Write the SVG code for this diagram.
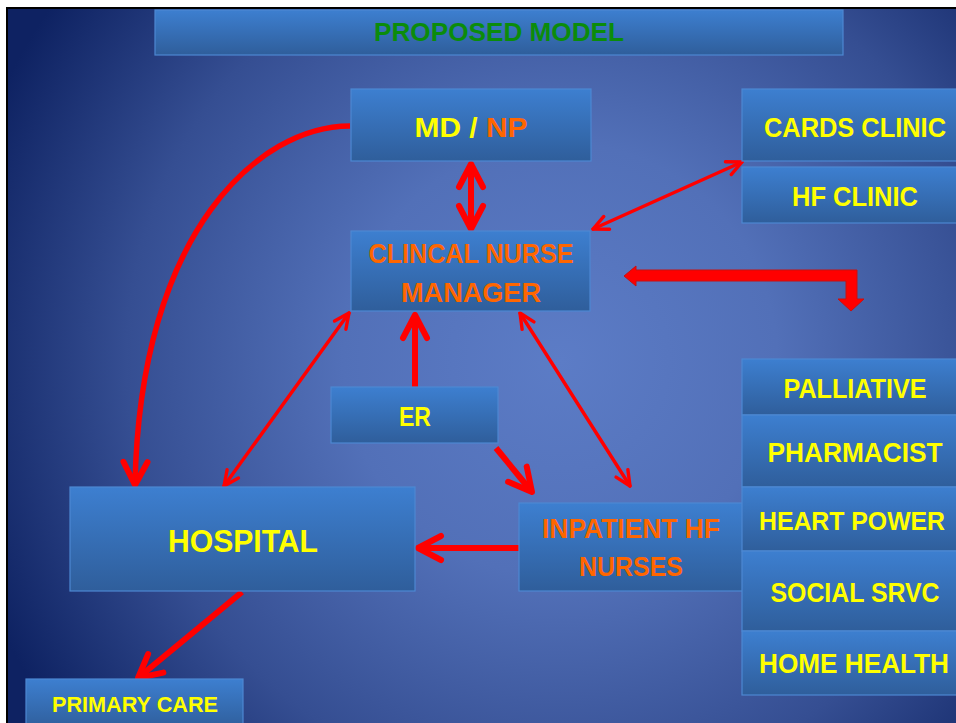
<svg xmlns="http://www.w3.org/2000/svg" width="956" height="723" viewBox="0 0 956 723">
<defs>
<radialGradient id="bg" cx="560" cy="360" r="620" gradientUnits="userSpaceOnUse">
<stop offset="0" stop-color="#5c7cc6"/>
<stop offset="0.35" stop-color="#5270b8"/>
<stop offset="0.7" stop-color="#354e92"/>
<stop offset="1" stop-color="#0e2262"/>
</radialGradient>
<linearGradient id="box" x1="0" y1="0" x2="0" y2="1">
<stop offset="0" stop-color="#3d7fd0"/>
<stop offset="1" stop-color="#2f5e9b"/>
</linearGradient>
<marker id="thin" markerUnits="userSpaceOnUse" orient="auto-start-reverse" overflow="visible" refX="0" refY="0" markerWidth="1" markerHeight="1">
<path d="M-15,-7 L0,0 L-15,7" fill="none" stroke="#ff0000" stroke-width="3.4" stroke-linecap="round" stroke-linejoin="round"/>
</marker>
<marker id="thick" markerUnits="userSpaceOnUse" orient="auto-start-reverse" overflow="visible" refX="0" refY="0" markerWidth="1" markerHeight="1">
<path d="M-23,-12 L0,0 L-23,12" fill="none" stroke="#ff0000" stroke-width="6" stroke-linecap="round" stroke-linejoin="round"/>
</marker>
</defs>
<style>
.bx{fill:url(#box);stroke:#4d88d2;stroke-width:1.2}
.t{font-family:"Liberation Sans",Arial,sans-serif;font-weight:bold;text-anchor:middle}
.y{fill:#ffff00}
.o{fill:#ff6600}
.thin{fill:none;stroke:#ff0000;stroke-width:3.4;stroke-linecap:round}
.thick{fill:none;stroke:#ff0000;stroke-width:6}
</style>
<rect x="0" y="0" width="956" height="723" fill="#ffffff"/>
<rect x="8" y="9" width="948" height="714" fill="url(#bg)"/>
<line x1="7" y1="8" x2="7" y2="723" stroke="#000" stroke-width="2"/>
<line x1="6" y1="8" x2="956" y2="8" stroke="#000" stroke-width="2"/>

<g id="title">
<rect class="bx" x="155" y="10" width="688" height="45"/>
<text class="t" x="499" y="41" font-size="26" fill="#0b8c0b" textLength="250" lengthAdjust="spacingAndGlyphs">PROPOSED MODEL</text>
</g>

<g id="connectors">
<line class="thick" x1="471" y1="164" x2="471" y2="229" marker-start="url(#thick)" marker-end="url(#thick)"/>
<line class="thin" x1="593" y1="229" x2="742" y2="162" marker-start="url(#thin)" marker-end="url(#thin)"/>
<path d="M350,126 C260,126 140,230 135,485" fill="none" stroke="#ff0000" stroke-width="5.5" marker-end="url(#thick)"/>
<line class="thin" x1="349" y1="313" x2="224" y2="486" marker-start="url(#thin)" marker-end="url(#thin)"/>
<line class="thick" x1="415" y1="388" x2="415" y2="315" marker-end="url(#thick)"/>
<line class="thin" x1="520" y1="313" x2="630" y2="486" marker-start="url(#thin)" marker-end="url(#thin)"/>
<line class="thick" x1="496" y1="448" x2="532" y2="492" stroke-width="7" marker-end="url(#thick)"/>
<line class="thick" x1="519" y1="548" x2="418" y2="548" marker-end="url(#thick)"/>
<line class="thick" x1="242" y1="592" x2="138" y2="678" stroke-width="5.5" marker-end="url(#thick)"/>
<polygon points="624,276 636,266 636,270 857,270 857,299 864,299 851,311 838,299 846,299 846,281 636,281 636,286" fill="#ff0000" stroke="#c81010" stroke-width="1"/>
</g>

<g id="md-np">
<rect class="bx" x="351" y="89" width="240" height="72"/>
<text class="t" x="471" y="137" font-size="28" textLength="113" lengthAdjust="spacingAndGlyphs"><tspan class="y">MD / </tspan><tspan class="o">NP</tspan></text>
</g>

<g id="clinical-nurse-manager">
<rect class="bx" x="351" y="231" width="239" height="80"/>
<text class="t o" x="471" y="263" font-size="27" textLength="205" lengthAdjust="spacingAndGlyphs">CLINCAL NURSE</text>
<text class="t o" x="471" y="302" font-size="27" textLength="140" lengthAdjust="spacingAndGlyphs">MANAGER</text>
</g>

<g id="cards-clinic">
<rect class="bx" x="742" y="89" width="216" height="72"/>
<text class="t y" x="855" y="137" font-size="27" textLength="182" lengthAdjust="spacingAndGlyphs">CARDS CLINIC</text>
</g>

<g id="hf-clinic">
<rect class="bx" x="742" y="167" width="216" height="56"/>
<text class="t y" x="855" y="206" font-size="27" textLength="126" lengthAdjust="spacingAndGlyphs">HF CLINIC</text>
</g>

<g id="er">
<rect class="bx" x="331" y="387" width="167" height="56"/>
<text class="t y" x="415" y="426" font-size="27" textLength="32" lengthAdjust="spacingAndGlyphs">ER</text>
</g>

<g id="hospital">
<rect class="bx" x="70" y="487" width="345" height="104"/>
<text class="t y" x="243" y="552" font-size="32" textLength="150" lengthAdjust="spacingAndGlyphs">HOSPITAL</text>
</g>

<g id="inpatient-hf-nurses">
<rect class="bx" x="519" y="503" width="224" height="88"/>
<text class="t o" x="631" y="538" font-size="27" textLength="178" lengthAdjust="spacingAndGlyphs">INPATIENT HF</text>
<text class="t o" x="631" y="576" font-size="27" textLength="104" lengthAdjust="spacingAndGlyphs">NURSES</text>
</g>

<g id="palliative">
<rect class="bx" x="742" y="359" width="216" height="56"/>
<text class="t y" x="855" y="398" font-size="27" textLength="143" lengthAdjust="spacingAndGlyphs">PALLIATIVE</text>
</g>

<g id="pharmacist">
<rect class="bx" x="742" y="415" width="216" height="72"/>
<text class="t y" x="855" y="462" font-size="27" textLength="175" lengthAdjust="spacingAndGlyphs">PHARMACIST</text>
</g>

<g id="heart-power">
<rect class="bx" x="742" y="487" width="216" height="64"/>
<text class="t y" x="852" y="530" font-size="26" textLength="186" lengthAdjust="spacingAndGlyphs">HEART POWER</text>
</g>

<g id="social-srvc">
<rect class="bx" x="742" y="551" width="216" height="80"/>
<text class="t y" x="855" y="602" font-size="27" textLength="169" lengthAdjust="spacingAndGlyphs">SOCIAL SRVC</text>
</g>

<g id="home-health">
<rect class="bx" x="742" y="631" width="216" height="64"/>
<text class="t y" x="854" y="673" font-size="27" textLength="190" lengthAdjust="spacingAndGlyphs">HOME HEALTH</text>
</g>

<g id="primary-care">
<rect class="bx" x="26" y="679" width="217" height="50"/>
<text class="t y" x="135" y="712" font-size="22" textLength="166" lengthAdjust="spacingAndGlyphs">PRIMARY CARE</text>
</g>
</svg>
